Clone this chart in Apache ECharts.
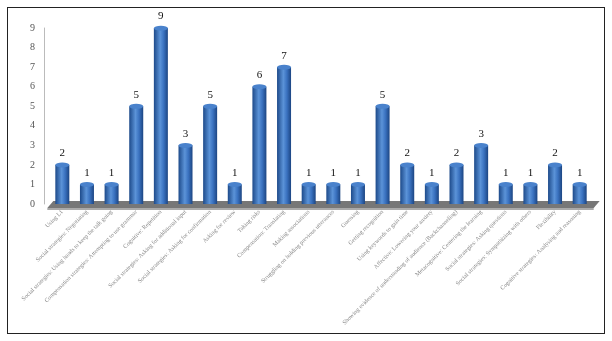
<!DOCTYPE html>
<html>
<head>
<meta charset="utf-8">
<script src="https://cdn.jsdelivr.net/npm/echarts@6/dist/echarts.min.js"></script>
<style>
  html, body { margin: 0; padding: 0; background: #fff; }
  #chart1 { width: 612px; height: 341px; }
  #frame {
    position: absolute; left: 7px; top: 7px; width: 596px; height: 325px;
    border: 1px solid #222; pointer-events: none;
  }
</style>
</head>
<body>
<div id="chart1"></div>
<div id="frame"></div>
<script>
// strategy names (x axis)
const categories = [
  'Using L1',
  'Social strategies: Negotiating',
  'Social strategies: Using hands to keep the talk going',
  'Compensation strategies: Attempting to use grammar',
  'Cognitive: Repetition',
  'Social strategies: Asking for additional input',
  'Social strategies: Asking for confirmation',
  'Asking for review',
  'Taking risks',
  'Compensation: Translating',
  'Making associations',
  'Struggling on holding previous utterances',
  'Guessing',
  'Getting recognition',
  'Using keywords to gain time',
  'Affective: Lowering your anxiety',
  'Showing evidence of understanding of audience (Backchanneling)',
  'Metacognitive: Centering the learning',
  'Social strategies: Asking questions',
  'Social strategies: Sympathizing with others',
  'Flexibility',
  'Cognitive strategies: Analysing and reasoning'
];
// frequency per strategy
const counts = [2, 1, 1, 5, 9, 3, 5, 1, 6, 7, 1, 1, 1, 5, 2, 1, 2, 3, 1, 1, 2, 1];
const yTicks = [0, 1, 2, 3, 4, 5, 6, 7, 8, 9];

const chartDiv = document.getElementById('chart1');
const myChart = echarts.init(chartDiv, null, { renderer: 'canvas' });

// cylinder look
const barColor = new echarts.graphic.LinearGradient(0, 0, 1, 0, [
  { offset: 0, color: '#1d4a8a' },
  { offset: 0.45, color: '#5b93d8' },
  { offset: 0.7, color: '#3a72c0' },
  { offset: 1, color: '#1c4582' }
]);

const option = {
  animation: false,
  grid: { left: 50, right: 20, top: 28, bottom: 137 },
  xAxis: {
    type: 'category',
    data: categories,
    axisLine: { show: false },
    axisTick: { show: false },
    axisLabel: {
      interval: 0,
      rotate: 45,
      fontSize: 6,
      color: '#888',
      fontFamily: 'Liberation Serif',
      margin: 7
    }
  },
  yAxis: {
    type: 'value',
    min: yTicks[0],
    max: yTicks[yTicks.length - 1],
    interval: 1,
    offset: 6,
    axisLine: { show: true, lineStyle: { color: '#bbb', width: 1 } },
    axisTick: { show: false },
    splitLine: { show: false },
    axisLabel: {
      fontSize: 10,
      color: '#555',
      fontFamily: 'Liberation Serif',
      margin: 9,
      padding: [6, 0, 0, 0]
    }
  },
  series: [
    {
      type: 'bar',
      data: counts,
      barWidth: 14,
      z: 3,
      itemStyle: { color: barColor },
      label: {
        show: true,
        position: 'top',
        distance: 6,
        fontSize: 11,
        color: '#111',
        fontFamily: 'Liberation Serif'
      }
    },
    {
      type: 'pictorialBar',
      data: counts,
      symbol: 'circle',
      symbolSize: [14, 5],
      symbolPosition: 'end',
      symbolOffset: [0, '-50%'],
      barGap: '-100%',
      z: 4,
      itemStyle: { color: '#4a82cc', borderColor: '#2b5fa8', borderWidth: 0.5 }
    }
  ]
};

myChart.setOption(option);

// grey 3D floor under the bars
const p0 = myChart.convertToPixel({ seriesIndex: 0 }, [0, 0]);
const p1 = myChart.convertToPixel({ seriesIndex: 0 }, [categories.length - 1, 0]);
const xl = p0[0] - 12, xr = p1[0] + 12, y0 = p0[1];
myChart.setOption({
  graphic: [
    {
      type: 'polygon',
      z: 1,
      shape: { points: [[xl - 3, y0 + 4], [xl + 3, y0 - 3], [xr + 8, y0 - 3], [xr + 2, y0 + 4]] },
      style: { fill: '#777' }
    },
    {
      type: 'polygon',
      z: 1,
      shape: { points: [[xl - 3, y0 + 4], [xr + 2, y0 + 4], [xr + 2, y0 + 6], [xl - 3, y0 + 6]] },
      style: { fill: '#aaa' }
    }
  ]
});
</script>
</body>
</html>
